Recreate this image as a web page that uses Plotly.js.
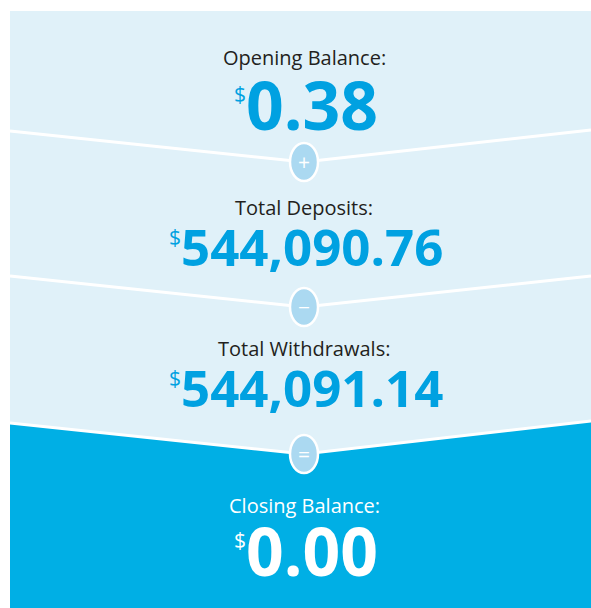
<!DOCTYPE html>
<html>
<head>
<meta charset="utf-8">
<script src="https://cdn.plot.ly/plotly-3.0.1.min.js"></script>
<style>html,body{margin:0;padding:0;background:#fff;}#chart{width:591px;height:608px;}</style>
</head>
<body>
<div id="chart"></div>
<script>
// ---- data ----
const labels = ["Opening Balance:", "Total Deposits:", "Total Withdrawals:", "Closing Balance:"];
const amounts = [0.38, 544090.76, 544091.14, 0.00];
const operators = ["+", "\u2212", "="];

// ---- layout constants ----
const W = 591, H = 608;
const panelLeft = 10, panelTop = 11;
const cx = 304;
const labelY = [57, 207, 348, 505];
const numBaseline = [130, 266, 407, 576];
const sepEdgeY = [[131, 130], [276, 276], [423, 421]];
const sepApexY = [162, 307, 454];
const lightBg = "#e0f1f9", darkBg = "#00afe5", numBlue = "#00a1e1", circleFill = "#abd9f1";

function fmt(v) {
  return v.toLocaleString("en-US", {minimumFractionDigits: 2, maximumFractionDigits: 2});
}

const shapes = [];
shapes.push({type: "rect", xref: "x", yref: "y", x0: panelLeft, x1: W, y0: panelTop, y1: H,
  fillcolor: lightBg, line: {width: 0}, layer: "below"});
// closing (dark) section
const last = sepEdgeY.length - 1;
shapes.push({type: "path", xref: "x", yref: "y",
  path: `M${panelLeft},${sepEdgeY[last][0]} L${cx},${sepApexY[last]} L${W},${sepEdgeY[last][1]} L${W},${H} L${panelLeft},${H} Z`,
  fillcolor: darkBg, line: {width: 0}, layer: "below"});
sepEdgeY.forEach((e, i) => {
  shapes.push({type: "path", xref: "x", yref: "y",
    path: `M${panelLeft},${e[0]} L${cx},${sepApexY[i]} L${W},${e[1]}`,
    line: {color: "#ffffff", width: 3}, layer: "below"});
  shapes.push({type: "circle", xref: "x", yref: "y",
    x0: cx - 14, x1: cx + 14, y0: sepApexY[i] - 19, y1: sepApexY[i] + 19,
    fillcolor: circleFill, line: {color: "#ffffff", width: 2.5}, layer: "above"});
});

const annotations = [];
labels.forEach((lab, i) => {
  const isLast = i === labels.length - 1;
  annotations.push({x: cx, y: labelY[i], xref: "x", yref: "y", text: lab, showarrow: false,
    xanchor: "center", yanchor: "middle",
    font: {family: "Open Sans", size: 20, color: isLast ? "#ffffff" : "#231f20"}});
  const s = fmt(amounts[i]);
  const fs = s.length > 6 ? 51 : 66;
  annotations.push({x: cx + 2, y: numBaseline[i] - 0.39 * fs, xref: "x", yref: "y",
    text: `<sup><span style="font-size:21px;font-weight:normal">$</span></sup>${s}`,
    showarrow: false, xanchor: "center", yanchor: "middle",
    font: {family: "Open Sans", size: fs, weight: 700, color: isLast ? "#ffffff" : numBlue}});
});
operators.forEach((op, i) => {
  annotations.push({x: cx, y: sepApexY[i], xref: "x", yref: "y", text: op, showarrow: false,
    xanchor: "center", yanchor: "middle",
    font: {family: "Open Sans", size: 21, color: "#ffffff"}});
});

const layout = {
  width: W, height: H,
  margin: {l: 0, r: 0, t: 0, b: 0, pad: 0},
  paper_bgcolor: "#ffffff", plot_bgcolor: "rgba(0,0,0,0)",
  xaxis: {range: [0, W], visible: false, fixedrange: true},
  yaxis: {range: [H, 0], visible: false, fixedrange: true},
  showlegend: false,
  shapes: shapes,
  annotations: annotations
};

Plotly.newPlot("chart", [{x: [], y: [], type: "scatter", mode: "markers", hoverinfo: "skip"}], layout,
  {staticPlot: true, displayModeBar: false});
</script>
</body>
</html>
